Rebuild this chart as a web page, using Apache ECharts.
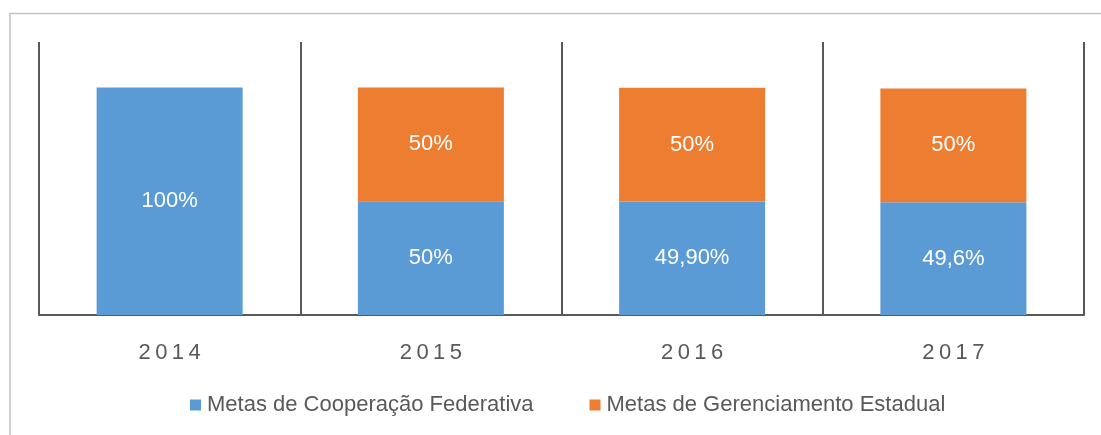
<!DOCTYPE html>
<html>
<head>
<meta charset="utf-8">
<script src="https://cdn.jsdelivr.net/npm/echarts@6/dist/echarts.min.js"></script>
<style>html,body{margin:0;padding:0;background:#fff;}#c{width:1101px;height:435px;}</style>
</head>
<body>
<div id="c"></div>
<script>
var categories = ['2014', '2015', '2016', '2017'];
var federativa = [100, 50, 49.9, 49.6];
var estadual = [null, 50, 50, 50];
var federativaLabels = ['100%', '50%', '49,90%', '49,6%'];
var estadualLabels = ['', '50%', '50%', '50%'];
var seriesNames = ['Metas de Cooperação Federativa', 'Metas de Gerenciamento Estadual'];

var chart = echarts.init(document.getElementById('c'));
var font = '"Liberation Sans", Arial, sans-serif';
chart.setOption({
  animation: false,
  textStyle: { fontFamily: font },
  graphic: [{
    type: 'rect', x: 0, y: 0, silent: true,
    shape: { x: 10, y: 13.5, width: 1200, height: 500 },
    style: { fill: 'none', stroke: '#c4c4c4', lineWidth: 1.5 }
  }],
  grid: { left: 39, right: 17, top: 42, bottom: 120 },
  legend: {
    bottom: 14, left: 185,
    itemWidth: 11, itemHeight: 11, itemGap: 56,
    icon: 'rect',
    textStyle: { color: '#595959', fontSize: 22, fontFamily: font, padding: [0, 0, 0, 1] },
    data: seriesNames
  },
  xAxis: {
    type: 'category', data: categories,
    axisLine: { lineStyle: { color: '#595959', width: 2 } },
    axisTick: { show: false },
    splitLine: { show: true, lineStyle: { color: '#595959', width: 2 } },
    axisLabel: {
      color: '#595959', fontSize: 22, margin: 27, fontFamily: font,
      formatter: function (v) { return v.split('').join('\u2009'); }
    }
  },
  yAxis: { type: 'value', min: 0, max: 120, show: false, splitLine: { show: false } },
  series: [{
    name: seriesNames[0], type: 'bar', stack: 'a', barWidth: 146,
    data: federativa,
    itemStyle: { color: '#5B9BD5' },
    label: {
      show: true, position: 'inside', color: '#fff', fontSize: 22, fontFamily: font,
      formatter: function (p) { return federativaLabels[p.dataIndex]; }
    }
  }, {
    name: seriesNames[1], type: 'bar', stack: 'a', barWidth: 146,
    data: estadual,
    itemStyle: { color: '#ED7D31' },
    label: {
      show: true, position: 'inside', color: '#fff', fontSize: 22, fontFamily: font,
      formatter: function (p) { return estadualLabels[p.dataIndex]; }
    }
  }]
});
</script>
</body>
</html>
